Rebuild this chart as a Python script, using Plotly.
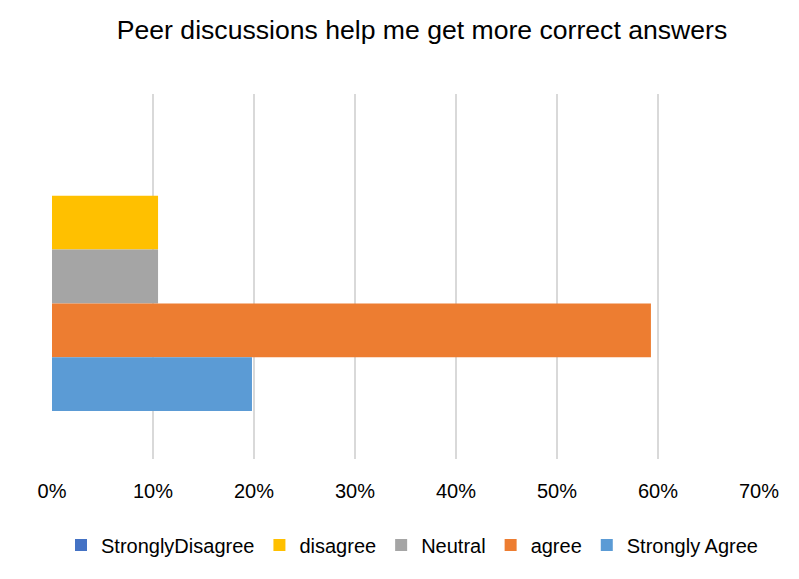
import plotly.graph_objects as go

title = "Peer discussions help me get more correct answers"
category = ["Q"]
series_names = ["StronglyDisagree", "disagree", "Neutral", "agree", "Strongly Agree"]
series_values = [0.0, 0.105, 0.105, 0.593, 0.198]
series_colors = ["#4472C4", "#FFC000", "#A5A5A5", "#ED7D31", "#5B9BD5"]
tick_vals = [0, 0.1, 0.2, 0.3, 0.4, 0.5, 0.6, 0.7]
tick_text = ["0%", "10%", "20%", "30%", "40%", "50%", "60%", "70%"]

# the page body adds an 8px offset; size the figure to fit the window
OFF = 8
W, H = 799 - OFF, 579 - OFF
ML, MR, MT, MB = 44, 40, 86, 120

fig = go.Figure()
for name, val, col in zip(series_names, series_values, series_colors):
    fig.add_trace(go.Bar(
        x=[val], y=category, name=name, orientation="h",
        marker=dict(color=col, line=dict(width=0)),
        hoverinfo="x+name",
    ))

font_family = "Liberation Sans, Arial, sans-serif"

fig.update_layout(
    width=W, height=H,
    margin=dict(l=ML, r=MR, t=MT, b=MB, pad=0, autoexpand=False),
    paper_bgcolor="white", plot_bgcolor="white",
    barmode="group", bargap=0.263, bargroupgap=0,
    font=dict(family=font_family, color="#000000", size=20),
    title=dict(text=title, x=(422 - OFF) / W, xref="container", xanchor="center",
               y=1 - (30 - OFF) / H, yref="container", yanchor="middle",
               font=dict(size=26.6, family=font_family, color="#000000")),
    xaxis=dict(range=[0, 0.7], tickvals=tick_vals, ticktext=tick_text,
               showgrid=True, gridcolor="#D9D9D9", gridwidth=2,
               zeroline=False, showline=False, ticks="", tickangle=0,
               ticklabelstandoff=18,
               tickfont=dict(size=20), fixedrange=True),
    yaxis=dict(autorange="reversed", showticklabels=False, showgrid=False,
               zeroline=False, showline=False, ticks=""),
    legend=dict(orientation="h", x=(412 - OFF) / W, xref="container", xanchor="center",
                y=1 - (545 - OFF) / H, yref="container", yanchor="middle",
                font=dict(size=20), itemwidth=30, tracegroupgap=0,
                traceorder="normal"),
    showlegend=True,
)

fig.write_html("out.html")
